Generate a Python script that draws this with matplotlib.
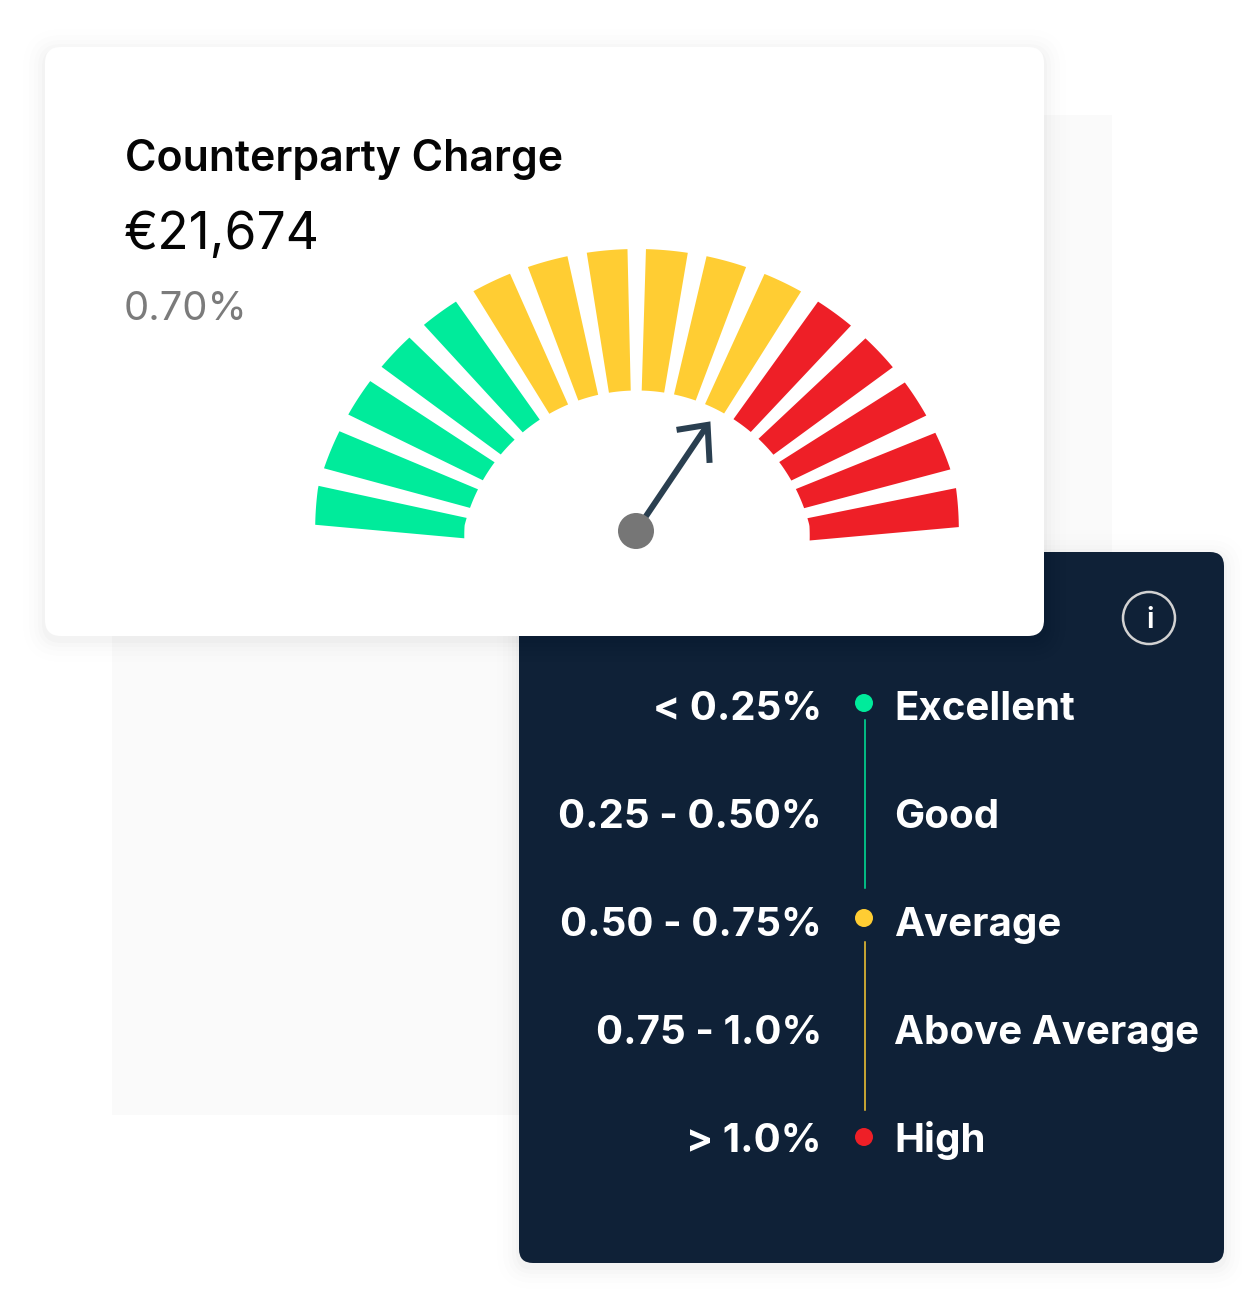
import numpy as np
import matplotlib
matplotlib.use("Agg")
import matplotlib.pyplot as plt
from matplotlib.patches import FancyBboxPatch, Rectangle, Circle, Polygon

# gauge segments, corner angles in degrees
outer_start = [172.0, 162.0, 151.7, 141.5, 131.0, 120.4, 109.8, 99.0, 88.4, 77.5, 66.7, 56.0, 45.4, 35.0, 24.7, 14.4]
outer_end = [165.2, 155.0, 144.7, 134.4, 124.0, 113.2, 102.5, 91.7, 80.9, 70.2, 59.5, 48.8, 38.4, 28.1, 17.8, 7.6]
inner_start = [169.6, 159.6, 149.8, 139.7, 129.7, 119.3, 109.1, 99.0, 88.5, 78.1, 67.7, 57.4, 47.2, 37.2, 27.0, 16.9]
inner_end = [163.0, 153.1, 142.9, 133.2, 122.9, 112.6, 102.5, 92.0, 81.3, 70.9, 60.9, 50.5, 40.2, 30.1, 20.3, 9.7]
segment_groups = ["green"] * 5 + ["yellow"] * 6 + ["red"] * 5
needle_angle = 56.0

title = "Counterparty Charge"
amount = "€21,674"
percent = "0.70%"

ranges = ["< 0.25%", "0.25 - 0.50%", "0.50 - 0.75%", "0.75 - 1.0%", "> 1.0%"]
ratings = ["Excellent", "Good", "Average", "Above Average", "High"]

colors = {"green": "#00EB9B", "yellow": "#FFCD33", "red": "#EE1F27"}
navy = "#0F2137"

plt.rcParams["font.family"] = ["Inter", "DejaVu Sans"]

W, H = 1242, 1293
fig = plt.figure(figsize=(W / 100, H / 100), dpi=100)
ax = fig.add_axes([0, 0, 1, 1])
ax.set_xlim(0, W)
ax.set_ylim(H, 0)
ax.axis("off")


def px(size):
    return size * 0.72


def card(x0, y0, x1, y1, radius, color, z):
    # soft shadow first, then the card
    for grow, alpha in [(22, 0.004), (16, 0.006), (11, 0.008), (7, 0.011), (3, 0.015)]:
        ax.add_patch(FancyBboxPatch((x0 - grow, y0 - grow + 4), x1 - x0 + 2 * grow, y1 - y0 + 2 * grow,
                                    boxstyle=f"round,pad=0,rounding_size={radius + grow}",
                                    fc="black", ec="none", alpha=alpha, zorder=z))
    ax.add_patch(FancyBboxPatch((x0, y0), x1 - x0, y1 - y0,
                                boxstyle=f"round,pad=0,rounding_size={radius}",
                                fc=color, ec="none", zorder=z + 0.1))


# background block
ax.add_patch(Rectangle((112, 115), 1000, 1000, fc="#FAFAFA", ec="none", zorder=0))

card(519, 552, 1224, 1263, 14, navy, 1)
card(45, 47, 1044, 636, 16, "white", 2)

# card text
ax.text(125, 160, title, fontsize=px(42.8), fontweight="semibold", color="#050505", va="center", ha="left", zorder=4)
ax.text(124, 235, amount, fontsize=px(51.5), color="#050505", va="center", ha="left", zorder=4)
ax.text(124, 310, percent, fontsize=px(40), color="#7B7B7B", va="center", ha="left", zorder=4)

# gauge
cx, cy = 637, 570
rx_out, ry_out = 330, 321
rx_in, ry_in = 178, 179.5


def edge(angle, rx, ry, trim=0.0):
    a = np.radians(angle)
    r = 1 / np.sqrt((np.cos(a) / rx) ** 2 + (np.sin(a) / ry) ** 2)
    # the outermost bars end a little short of the ellipse
    r -= trim * max(0.0, 14.5 - min(angle, 180 - angle))
    return cx + r * np.cos(a), cy - r * np.sin(a)


for a0, a1, b0, b1, group in zip(outer_start, outer_end, inner_start, inner_end, segment_groups):
    outer = [edge(a, rx_out, ry_out, trim=0.75) for a in np.linspace(a0, a1, 12)]
    inner = [edge(a, rx_in, ry_in, trim=0.6) for a in np.linspace(b1, b0, 12)]
    ax.add_patch(Polygon(outer + inner, closed=True, fc=colors[group], ec="none", zorder=3))

# needle
hub_x, hub_y = 636, 531
needle_len = 128
ang = np.radians(needle_angle)
tip_x = hub_x + needle_len * np.cos(ang)
tip_y = hub_y - needle_len * np.sin(ang)
ax.plot([hub_x, tip_x], [hub_y, tip_y], color="#2A3F50", lw=px(6), solid_capstyle="butt", zorder=4)
ax.plot([tip_x - 31, tip_x, tip_x + 2], [tip_y + 5, tip_y, tip_y + 38], color="#2A3F50", lw=px(6),
        solid_joinstyle="miter", solid_capstyle="butt", zorder=4)
ax.add_patch(Circle((hub_x, hub_y), 18, fc="#767676", ec="none", zorder=5))

# info icon
ax.add_patch(Circle((1149, 618), 26, fc="none", ec="#D2D2D2", lw=px(2.5), zorder=4))
ax.text(1150, 620, "i", fontsize=px(29), fontweight="semibold", color="white", va="center", ha="center", zorder=4)

# legend rows
row_y = [709, 817, 925, 1033, 1141]
for y, rng, rating in zip(row_y, ranges, ratings):
    ax.text(822, y, rng, fontsize=px(40.2), fontweight="bold", color="white", va="center", ha="right", zorder=4)
    ax.text(894, y, rating, fontsize=px(40.2), fontweight="bold", color="white", va="center", ha="left", zorder=4)

ax.plot([864.5, 864.5], [720, 888], color=colors["green"], lw=px(1.5), zorder=4)
ax.plot([864.5, 864.5], [942, 1110], color=colors["yellow"], lw=px(1.5), zorder=4)
ax.add_patch(Circle((864, 703), 9, fc=colors["green"], ec="none", zorder=5))
ax.add_patch(Circle((864, 918), 9, fc=colors["yellow"], ec="none", zorder=5))
ax.add_patch(Circle((864, 1137), 9, fc=colors["red"], ec="none", zorder=5))

fig.savefig("out.png", dpi=100, facecolor="white")
